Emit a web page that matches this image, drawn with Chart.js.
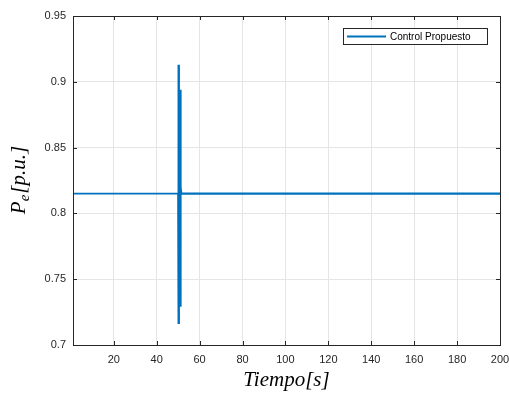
<!DOCTYPE html>
<html><head><meta charset="utf-8">
<script src="https://cdn.jsdelivr.net/npm/chart.js@4"></script>
<style>html,body{margin:0;padding:0;background:#fff}#wrap{width:509px;height:399px}</style>
</head><body><div id="wrap"><canvas id="c" width="509" height="399"></canvas></div>
<script>
// Data
const time  = [1, 50.1, 50.15, 50.2, 50.25, 50.3, 50.35, 50.4, 50.5, 50.6, 50.7, 50.8, 50.9, 50.95, 51.0, 51.05, 51.1, 51.2, 51.4, 200];
const power = [0.815, 0.815, 0.913, 0.716, 0.905, 0.722, 0.86, 0.77, 0.84, 0.80, 0.83, 0.81, 0.82, 0.894, 0.729, 0.87, 0.802, 0.82, 0.815, 0.815];
const xTicks = [20, 40, 60, 80, 100, 120, 140, 160, 180, 200];
const yTicks = [0.7, 0.75, 0.8, 0.85, 0.9, 0.95];
const seriesName = 'Control Propuesto';
const xTitle = 'Tiempo[s]';

const AX = '#262626', GRID = '#e5e5e5', BLUE = '#0072BD';
const points = time.map((t, i) => ({x: t, y: power[i]}));

const deco = {
  id: 'deco',
  afterDraw(chart) {
    const {ctx, chartArea: a, scales: {x, y}} = chart;
    ctx.save();
    ctx.strokeStyle = AX; ctx.lineWidth = 1;
    ctx.strokeRect(Math.round(a.left) + 0.5, Math.round(a.top) + 0.5, Math.round(a.right - a.left), Math.round(a.bottom - a.top));
    ctx.beginPath();
    xTicks.forEach(v => { const px = Math.round(x.getPixelForValue(v)) + 0.5;
      ctx.moveTo(px, a.bottom); ctx.lineTo(px, a.bottom - 4);
      ctx.moveTo(px, a.top); ctx.lineTo(px, a.top + 4); });
    yTicks.forEach(v => { const py = Math.round(y.getPixelForValue(v)) + 0.5;
      ctx.moveTo(a.left, py); ctx.lineTo(a.left + 4, py);
      ctx.moveTo(a.right, py); ctx.lineTo(a.right - 4, py); });
    ctx.stroke();
    // legend
    const lx = 343.5, ly = 28.5, lw = 144, lh = 16;
    ctx.fillStyle = '#fff'; ctx.fillRect(lx, ly, lw, lh);
    ctx.strokeStyle = AX; ctx.strokeRect(lx, ly, lw, lh);
    ctx.strokeStyle = BLUE; ctx.lineWidth = 2;
    ctx.beginPath(); ctx.moveTo(347, ly + lh / 2); ctx.lineTo(386, ly + lh / 2); ctx.stroke();
    ctx.fillStyle = '#000'; ctx.font = '10px "Liberation Sans", Arial, sans-serif';
    ctx.textBaseline = 'middle'; ctx.textAlign = 'left';
    ctx.fillText(seriesName, 390, ly + lh / 2 + 0.5);
    // y title: P_e[p.u.]
    ctx.translate(25, 180); ctx.rotate(-Math.PI / 2);
    ctx.fillStyle = '#000'; ctx.textBaseline = 'alphabetic';
    const big = 'italic 21px "Liberation Serif", "DejaVu Serif", serif';
    const small = 'italic 15px "Liberation Serif", "DejaVu Serif", serif';
    ctx.font = big; const wP = ctx.measureText('P').width;
    ctx.font = small; const wE = ctx.measureText('e').width;
    ctx.font = big; const wR = ctx.measureText('[p.u.]').width;
    let sx = -(wP + wE + wR + 1) / 2;
    ctx.font = big; ctx.fillText('P', sx, 0); sx += wP;
    ctx.font = small; ctx.fillText('e', sx, 4); sx += wE + 1;
    ctx.font = big; ctx.fillText('[p.u.]', sx, 0);
    ctx.restore();
  }
};

new Chart(document.getElementById('c'), {
  type: 'line',
  data: { datasets: [{ label: seriesName, data: points, borderColor: BLUE, borderWidth: 1.6,
    pointRadius: 0, tension: 0, fill: false,
    segment: { borderWidth: c => (c.p0.parsed.x >= 50 ? 2.4 : 1.6) } }] },
  options: {
    responsive: false, animation: false, devicePixelRatio: 1,
    layout: { padding: { left: 0, right: 9, top: 16, bottom: 6 } },
    plugins: { legend: { display: false }, tooltip: { enabled: false } },
    scales: {
      x: { type: 'linear', min: 1, max: 200,
        afterBuildTicks: s => { s.ticks = xTicks.map(v => ({value: v})); },
        afterFit: s => { s.height = 48; s.paddingLeft = 0; s.paddingRight = 0; },
        grid: { color: GRID, drawTicks: false, lineWidth: 1 },
        border: { display: false },
        ticks: { color: AX, padding: 8, maxRotation: 0, autoSkip: false,
          font: { family: '"Liberation Sans", Arial, sans-serif', size: 11 } },
        title: { display: true, text: xTitle, color: '#000', padding: { top: 0, bottom: 0 },
          font: { family: '"Liberation Serif", "DejaVu Serif", serif', style: 'italic', size: 21 } } },
      y: { type: 'linear', min: 0.7, max: 0.95,
        afterBuildTicks: s => { s.ticks = yTicks.map(v => ({value: v})); },
        afterFit: s => { s.width = 73; s.paddingTop = 0; s.paddingBottom = 0; },
        grid: { color: GRID, drawTicks: false, lineWidth: 1 },
        border: { display: false },
        ticks: { color: AX, padding: 7, autoSkip: false,
          callback: v => String(+v.toFixed(2)),
          font: { family: '"Liberation Sans", Arial, sans-serif', size: 11 } } }
    }
  },
  plugins: [deco]
});
</script></body></html>
